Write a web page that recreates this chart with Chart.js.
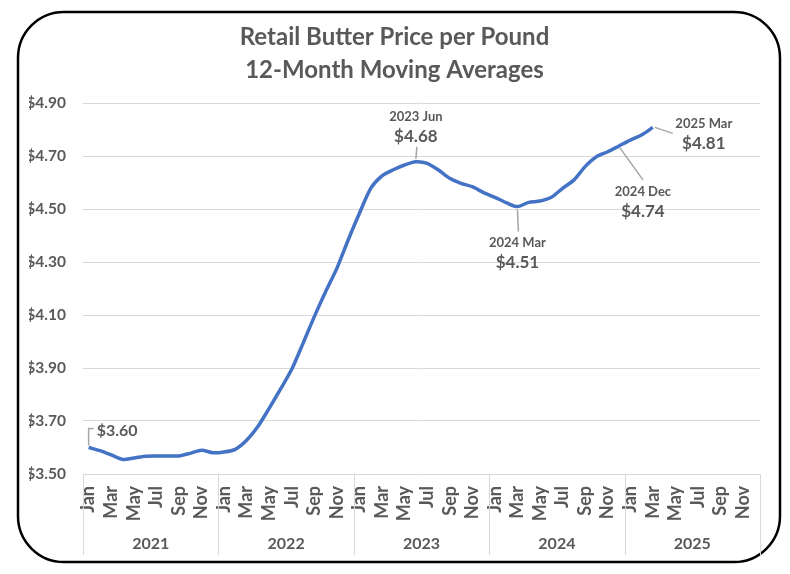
<!DOCTYPE html>
<html>
<head>
<meta charset="utf-8">
<title>Retail Butter Price per Pound</title>
<script src="https://cdn.jsdelivr.net/npm/chart.js@4.4.1/dist/chart.umd.min.js"></script>
<style>
	html, body { margin: 0; padding: 0; background: #fff; }
	#wrap { width: 790px; height: 574px; position: relative; }
</style>
</head>
<body>
<div id="wrap"><canvas id="canvas"></canvas></div>
<script>
var years = ['2021', '2022', '2023', '2024', '2025'];
var months = ['Jan', 'Feb', 'Mar', 'Apr', 'May', 'Jun', 'Jul', 'Aug', 'Sep', 'Oct', 'Nov', 'Dec'];

// 12-month moving average, Jan 2021 .. Mar 2025
var prices2021 = [3.600, 3.588, 3.572, 3.555, 3.560, 3.567, 3.568, 3.568, 3.568, 3.578, 3.590, 3.580];
var prices2022 = [3.583, 3.593, 3.627, 3.679, 3.748, 3.820, 3.895, 3.993, 4.094, 4.188, 4.276, 4.383];
var prices2023 = [4.484, 4.578, 4.625, 4.648, 4.666, 4.678, 4.672, 4.647, 4.616, 4.597, 4.584, 4.562];
var prices2024 = [4.544, 4.524, 4.509, 4.525, 4.530, 4.544, 4.578, 4.609, 4.660, 4.697, 4.716, 4.738];
var prices2025 = [4.760, 4.779, 4.808];

var yTicks = [3.50, 3.70, 3.90, 4.10, 4.30, 4.50, 4.70, 4.90];

var labels = [];
years.forEach(function(y) {
	months.forEach(function(m) { labels.push(m); });
});
var values = prices2021.concat(prices2022, prices2023, prices2024, prices2025);
while (values.length < labels.length) values.push(null);

var TEXT = '#595959';
var FONT = 'Lato';

// callouts: which point, and where the leader and text sit relative to it
var callouts = [
	{ index: 0, side: true },
	{ index: 29, line: [0, -3, 1, -15], dx: 0, dy: -45 },
	{ index: 38, line: [0, 3, 1, 25], dx: 0, dy: 36 },
	{ index: 47, line: [1, 2, 24, 34], dx: 24, dy: 46 },
	{ index: 50, line: [2, 0, 20, 6], dx: 51, dy: -4 }
];

function calloutName(i) {
	return years[Math.floor(i / 12)] + ' ' + months[i % 12];
}

var framePlugin = {
	id: 'frame',
	beforeDraw: function(chart) {
		var ctx = chart.ctx;
		ctx.save();
		ctx.fillStyle = '#fff';
		ctx.fillRect(0, 0, chart.width, chart.height);
		var x = 18, y = 12, w = 762, h = 550, r = 46;
		ctx.beginPath();
		ctx.moveTo(x + r, y);
		ctx.arcTo(x + w, y, x + w, y + h, r);
		ctx.arcTo(x + w, y + h, x, y + h, r);
		ctx.arcTo(x, y + h, x, y, r);
		ctx.arcTo(x, y, x + w, y, r);
		ctx.closePath();
		ctx.lineWidth = 2.5;
		ctx.strokeStyle = '#000';
		ctx.stroke();
		ctx.restore();
	},
	afterDatasetsDraw: function(chart) {
		var ctx = chart.ctx;
		var xs = chart.scales.x, ys = chart.scales.y;
		ctx.save();
		ctx.strokeStyle = '#a6a6a6';
		ctx.lineWidth = 1.5;
		ctx.fillStyle = TEXT;
		ctx.textBaseline = 'middle';
		callouts.forEach(function(c) {
			var v = values[c.index];
			var px = xs.getPixelForValue(c.index);
			var py = ys.getPixelForValue(v);
			var txt = '$' + v.toFixed(2);
			if (c.side) {
				ctx.beginPath();
				ctx.moveTo(px, py - 2);
				ctx.lineTo(px, py - 19);
				ctx.lineTo(px + 5, py - 19);
				ctx.stroke();
				ctx.textAlign = 'left';
				ctx.font = 'bold 16px ' + FONT;
				ctx.fillText(txt, px + 8, py - 17);
				return;
			}
			ctx.beginPath();
			ctx.moveTo(px + c.line[0], py + c.line[1]);
			ctx.lineTo(px + c.line[2], py + c.line[3]);
			ctx.stroke();
			ctx.textAlign = 'center';
			ctx.font = 'bold 13px ' + FONT;
			ctx.fillText(calloutName(c.index), px + c.dx, py + c.dy);
			ctx.font = 'bold 17px ' + FONT;
			ctx.fillText(txt, px + c.dx, py + c.dy + 20);
		});
		ctx.restore();
	},
	afterDraw: function(chart) {
		var ctx = chart.ctx;
		var area = chart.chartArea;
		var step = (area.right - area.left) / labels.length;
		ctx.save();
		ctx.strokeStyle = '#d9d9d9';
		ctx.lineWidth = 1;
		for (var i = 0; i <= years.length; i++) {
			var bx = Math.round(area.left + i * 12 * step) + 0.5;
			ctx.beginPath();
			ctx.moveTo(bx, area.bottom);
			ctx.lineTo(bx, area.bottom + 81);
			ctx.stroke();
		}
		ctx.fillStyle = TEXT;
		ctx.font = 'bold 16px ' + FONT;
		ctx.textAlign = 'center';
		ctx.textBaseline = 'middle';
		years.forEach(function(y, i) {
			var cx = area.left + (i * 12 + 6) * step;
			ctx.fillText(y, cx, area.bottom + 70);
		});
		ctx.restore();
	}
};

var config = {
	type: 'line',
	data: {
		labels: labels,
		datasets: [{
			label: 'Retail Butter Price',
			data: values,
			borderColor: '#4472c4',
			borderWidth: 3.5,
			pointRadius: 0,
			tension: 0.25,
			fill: false,
			spanGaps: false
		}]
	},
	options: {
		responsive: true,
		maintainAspectRatio: false,
		animation: false,
		layout: {
			padding: { left: 29, right: 30, top: 0, bottom: 0 }
		},
		plugins: {
			legend: { display: false },
			tooltip: { enabled: false },
			title: {
				display: true,
				text: ['Retail Butter Price per Pound', '12-Month Moving Averages'],
				color: TEXT,
				font: { family: FONT, size: 24, weight: 'bold', lineHeight: 1.375 },
				padding: { top: 20.5, bottom: 16.5 }
			}
		},
		scales: {
			x: {
				offset: true,
				grid: { display: false, drawTicks: false },
				border: { display: false },
				afterFit: function(scale) { scale.height = 100; },
				ticks: {
					autoSkip: false,
					minRotation: 90,
					maxRotation: 90,
					padding: 12,
					color: TEXT,
					font: { family: FONT, size: 18, weight: 'bold' },
					callback: function(val, idx) {
						return idx % 2 === 0 ? this.getLabelForValue(val) : '';
					}
				}
			},
			y: {
				min: yTicks[0],
				max: yTicks[yTicks.length - 1],
				afterFit: function(scale) { scale.width = 54; },
				afterBuildTicks: function(scale) {
					scale.ticks = yTicks.map(function(v) { return { value: v }; });
				},
				grid: { color: '#d9d9d9', lineWidth: 1, drawTicks: false },
				border: { display: false },
				ticks: {
					padding: 17,
					color: TEXT,
					font: { family: FONT, size: 15.5, weight: 'bold' },
					callback: function(v) { return '$' + Number(v).toFixed(2); }
				}
			}
		}
	},
	plugins: [framePlugin]
};

window.onload = function() {
	window.myLine = new Chart(document.getElementById('canvas'), config);
};
</script>
</body>
</html>
